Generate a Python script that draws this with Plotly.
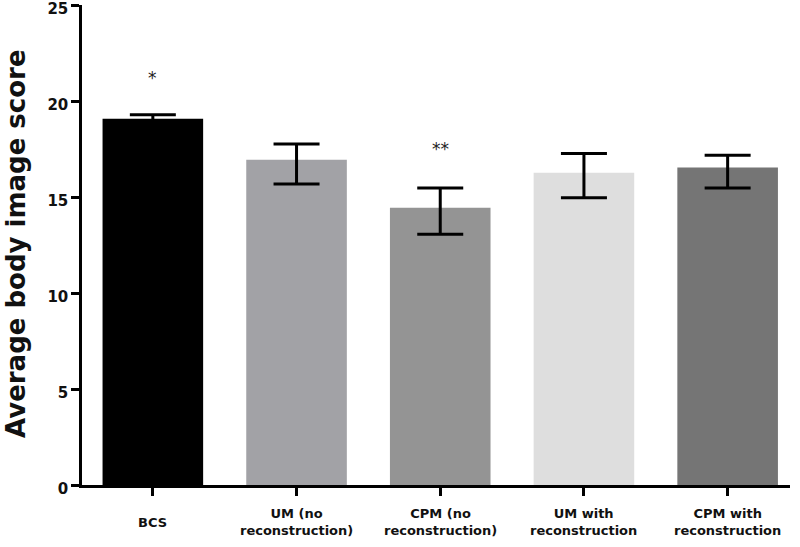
import plotly.graph_objects as go

categories = ["BCS", "UM (no<br>reconstruction)", "CPM (no<br>reconstruction)",
              "UM with<br>reconstruction", "CPM with<br>reconstruction"]
means = [19.07, 16.94, 14.44, 16.26, 16.53]
err_plus = [0.22, 0.82, 1.03, 1.01, 0.65]
err_minus = [0.22, 1.26, 1.38, 1.30, 1.06]
bar_colors = ["#000000", "#a2a2a6", "#949494", "#dedede", "#757575"]
sig_labels = ["*", "", "**", "", ""]
sig_y = [21.2, None, 17.5, None, None]
y_ticks = [0, 5, 10, 15, 20, 25]

x_idx = list(range(len(categories)))

W, H = 800, 547
L, R, T, B = 82, 10, 5, 62
plot_h = H - T - B
plot_w = W - L - R


def paper_y(px):
    return (H - B - px) / plot_h


fig = go.Figure()
fig.add_trace(go.Bar(
    x=x_idx, y=means, width=0.7,
    marker=dict(color=bar_colors, line=dict(width=0)),
    error_y=dict(type="data", symmetric=False, array=err_plus, arrayminus=err_minus,
                 color="#000000", thickness=3, width=23),
    showlegend=False,
))

for i, (lab, yy) in enumerate(zip(sig_labels, sig_y)):
    if lab:
        fig.add_annotation(x=i, y=yy, text=lab, showarrow=False,
                           font=dict(size=17, color="#222", family="DejaVu Sans"),
                           xanchor="center", yanchor="middle")

for i, lab in enumerate(categories):
    fig.add_annotation(x=i, xref="x", y=paper_y(522), yref="paper", yanchor="middle",
                       text="<b>" + lab + "</b>", showarrow=False, align="center",
                       font=dict(size=13, color="#111", family="DejaVu Sans"))

fig.add_annotation(xref="paper", yref="paper", x=(16 - L) / plot_w, y=paper_y(244),
                   text="<b>Average body image score</b>", textangle=-90,
                   showarrow=False, xanchor="center", yanchor="middle",
                   font=dict(size=26, color="#111", family="DejaVu Sans"))

fig.update_layout(
    width=W, height=H,
    margin=dict(l=L, r=R, t=T, b=B),
    plot_bgcolor="white", paper_bgcolor="white",
    bargap=0.3,
)
fig.update_xaxes(range=[-0.493, 4.434], tickvals=x_idx, ticktext=[""] * len(x_idx),
                 showline=True, linecolor="black", linewidth=2.5,
                 ticks="outside", ticklen=8, tickwidth=2.5, tickcolor="black",
                 showgrid=False, zeroline=False, fixedrange=True, automargin=False)
fig.update_yaxes(range=[0, 25], tickvals=y_ticks,
                 ticktext=["<b>%d</b>" % t for t in y_ticks],
                 showline=True, linecolor="black", linewidth=2.5,
                 ticks="outside", ticklen=8, tickwidth=2.5, tickcolor="black",
                 tickfont=dict(size=15, color="#111", family="DejaVu Sans"),
                 ticklabeloverflow="allow", ticklabelshift=4,
                 showgrid=False, zeroline=False, automargin=False)

fig.write_html("out.html", config={"displayModeBar": False},
               post_script="document.body.style.margin='0';")
